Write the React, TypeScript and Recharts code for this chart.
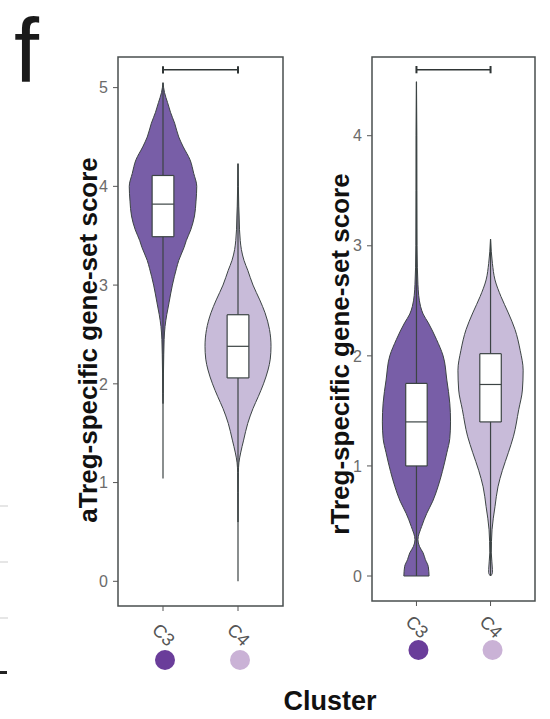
import React from 'react';
import { ComposedChart, Area, Line, XAxis, YAxis, ReferenceArea } from 'recharts';

const clusters = ['C3', 'C4'];
const clusterPos = [1, 2];
const violinFill = ['#785ea7', '#c8bbd9'];
const dotFill = ['#6a3d9a', '#cab2d6'];

// aTreg-specific score, violin outlines (score level -> half width)
const aTregTicks = [0, 1, 2, 3, 4, 5];
const aTregC3Level = [5.05, 4.95, 4.85, 4.75, 4.64, 4.5, 4.4, 4.27, 4.13, 4.0, 3.85, 3.7, 3.56, 3.45, 3.38, 3.25, 3.17, 3.0, 2.82, 2.7, 2.58, 2.45, 2.3, 2.1, 1.9, 1.8];
const aTregC3Half = [0, 0.02, 0.06, 0.1, 0.155, 0.21, 0.27, 0.36, 0.41, 0.45, 0.44, 0.42, 0.37, 0.31, 0.28, 0.21, 0.18, 0.125, 0.08, 0.05, 0.027, 0.015, 0.01, 0.006, 0.004, 0];
const aTregC4Level = [4.23, 4.0, 3.8, 3.7, 3.56, 3.45, 3.36, 3.25, 3.15, 3.0, 2.85, 2.72, 2.55, 2.38, 2.25, 2.14, 2.0, 1.87, 1.75, 1.6, 1.43, 1.3, 1.2, 1.1, 0.9, 0.6];
const aTregC4Half = [0, 0.005, 0.01, 0.015, 0.02, 0.03, 0.045, 0.08, 0.13, 0.2, 0.29, 0.36, 0.42, 0.44, 0.43, 0.4, 0.34, 0.27, 0.2, 0.13, 0.075, 0.035, 0.012, 0.005, 0.003, 0];
const aTregMin = [1.04, 0];
const aTregQ1 = [3.49, 2.06];
const aTregMed = [3.82, 2.38];
const aTregQ3 = [4.11, 2.7];
const aTregMax = [5.05, 4.23];

// rTreg-specific score
const rTregTicks = [0, 1, 2, 3, 4];
const rTregC3Level = [4.49, 4.0, 3.5, 3.0, 2.8, 2.65, 2.55, 2.45, 2.38, 2.3, 2.15, 2.0, 1.78, 1.57, 1.4, 1.25, 1.12, 0.95, 0.81, 0.68, 0.57, 0.45, 0.33, 0.27, 0.21, 0.15, 0.085, 0];
const rTregC3Half = [0, 0.005, 0.006, 0.008, 0.012, 0.02, 0.03, 0.055, 0.09, 0.16, 0.27, 0.36, 0.41, 0.45, 0.46, 0.45, 0.41, 0.35, 0.29, 0.22, 0.14, 0.07, 0.02, 0.04, 0.09, 0.12, 0.16, 0.17];
const rTregC4Level = [3.06, 2.84, 2.69, 2.54, 2.39, 2.24, 2.05, 1.87, 1.69, 1.51, 1.27, 1.12, 0.96, 0.81, 0.63, 0.42, 0.21, 0.06, 0.03, 0];
const rTregC4Half = [0, 0.025, 0.06, 0.14, 0.24, 0.33, 0.4, 0.44, 0.43, 0.38, 0.31, 0.24, 0.16, 0.1, 0.06, 0.02, 0.01, 0.025, 0.025, 0];
const rTregMin = [0, 0];
const rTregQ1 = [1.0, 1.4];
const rTregMed = [1.4, 1.74];
const rTregQ3 = [1.75, 2.02];
const rTregMax = [4.49, 3.06];

const FONT = '"Liberation Sans", Arial, Helvetica, sans-serif';
const OUTLINE = '#3c4444';
const BOX_HALF = 0.145;

type PanelProps = {
  left: number;
  width: number;
  margin: { top: number; right: number; bottom: number; left: number };
  yDomain: [number, number];
  ticks: number[];
  levels: number[][];
  halves: number[][];
  min: number[];
  q1: number[];
  med: number[];
  q3: number[];
  max: number[];
  bracketY: number;
  bracketEnd: number;
  labelDy: number;
  dotDy: number;
};

function Panel(p: PanelProps) {
  const xDomain: [number, number] = [0.4, 2.6];
  const renderTick = (t: any) => {
    const i = clusterPos.indexOf(t.payload.value);
    const ax = t.x - 12;
    const ay = t.y + p.labelDy;
    return (
      <g>
        <text x={ax} y={ay} transform={`rotate(45 ${ax} ${ay})`} fontSize={18} fill="#555" fontFamily={FONT}>
          {clusters[i]}
        </text>
        <circle cx={t.x + 2} cy={t.y + p.dotDy} r={10} fill={dotFill[i]} />
      </g>
    );
  };

  const seg = (key: string, pts: { x: number; y: number }[], stroke: string, w: number) => (
    <Line
      key={key}
      data={pts}
      dataKey="x"
      stroke={stroke}
      strokeWidth={w}
      dot={false}
      activeDot={false}
      isAnimationActive={false}
    />
  );

  return (
    <div style={{ position: 'absolute', left: p.left, top: 0 }}>
      <ComposedChart layout="vertical" width={p.width} height={719} margin={p.margin}>
        <XAxis
          type="number"
          dataKey="x"
          domain={xDomain}
          allowDataOverflow
          ticks={clusterPos}
          tick={renderTick}
          tickSize={5}
          height={40}
          axisLine={false}
          tickLine={{ stroke: '#555' }}
          interval={0}
        />
        <YAxis
          type="number"
          dataKey="y"
          domain={p.yDomain}
          allowDataOverflow
          reversed
          ticks={p.ticks}
          width={30}
          tickSize={5}
          tickMargin={5}
          axisLine={false}
          tickLine={{ stroke: '#555' }}
          tick={{ fontSize: 16, fill: '#6b6b6b', fontFamily: FONT }}
          interval={0}
        />
        <ReferenceArea
          x1={xDomain[0]}
          x2={xDomain[1]}
          y1={p.yDomain[0]}
          y2={p.yDomain[1]}
          fill="none"
          stroke="#4a4f4f"
          strokeWidth={1.5}
          ifOverflow="visible"
        />
        {clusterPos.map((c, i) => (
          <Area
            key={`v${i}`}
            data={p.levels[i].map((y, k) => ({ y, lo: c - p.halves[i][k], hi: c + p.halves[i][k] }))}
            dataKey={(d: any) => [d.lo, d.hi]}
            type="monotone"
            fill={violinFill[i]}
            fillOpacity={1}
            stroke={OUTLINE}
            strokeWidth={1}
            dot={false}
            activeDot={false}
            isAnimationActive={false}
          />
        ))}
        {clusterPos.map((c, i) => {
          const k = p.levels[i].length - 1;
          return p.halves[i][k] > 0
            ? seg(`vb${i}`, [{ y: p.levels[i][k], x: c - p.halves[i][k] }, { y: p.levels[i][k], x: c + p.halves[i][k] }], OUTLINE, 1)
            : null;
        })}
        {clusterPos.map((c, i) => seg(`wu${i}`, [{ y: p.q3[i], x: c }, { y: p.max[i], x: c }], OUTLINE, 1.2))}
        {clusterPos.map((c, i) => seg(`wl${i}`, [{ y: p.min[i], x: c }, { y: p.q1[i], x: c }], OUTLINE, 1.2))}
        {clusterPos.map((c, i) => (
          <Area
            key={`b${i}`}
            data={[
              { y: p.q1[i], lo: c - BOX_HALF, hi: c + BOX_HALF },
              { y: p.q3[i], lo: c - BOX_HALF, hi: c + BOX_HALF },
            ]}
            dataKey={(d: any) => [d.lo, d.hi]}
            type="linear"
            fill="#ffffff"
            fillOpacity={1}
            stroke={OUTLINE}
            strokeWidth={1.2}
            dot={false}
            activeDot={false}
            isAnimationActive={false}
          />
        ))}
        {clusterPos.map((c, i) => seg(`bt${i}`, [{ y: p.q3[i], x: c - BOX_HALF }, { y: p.q3[i], x: c + BOX_HALF }], OUTLINE, 1.2))}
        {clusterPos.map((c, i) => seg(`bb${i}`, [{ y: p.q1[i], x: c - BOX_HALF }, { y: p.q1[i], x: c + BOX_HALF }], OUTLINE, 1.2))}
        {clusterPos.map((c, i) => seg(`m${i}`, [{ y: p.med[i], x: c - BOX_HALF }, { y: p.med[i], x: c + BOX_HALF }], OUTLINE, 1.2))}
        {seg('bracket', [{ y: p.bracketY, x: clusterPos[0] }, { y: p.bracketY, x: clusterPos[1] }], '#2f3535', 1.5)}
        {clusterPos.map((c, i) =>
          seg(`be${i}`, [{ y: p.bracketY - p.bracketEnd, x: c }, { y: p.bracketY + p.bracketEnd, x: c }], '#2f3535', 2)
        )}
      </ComposedChart>
    </div>
  );
}

export default function App() {
  return (
    <div style={{ position: 'absolute', left: 0, top: 0, width: 550, height: 719, background: '#fff', fontFamily: FONT }}>
      {[505, 561, 617].map((y) => (
        <div key={y} style={{ position: 'absolute', left: 0, top: y, width: 8, height: 2, background: '#e6e6e6' }} />
      ))}
      <div style={{ position: 'absolute', left: 0, top: 671, width: 7, height: 3, background: '#222' }} />
      <Panel
        left={0}
        width={300}
        margin={{ top: 57, right: 17, bottom: 73, left: 88 }}
        yDomain={[-0.25, 5.31]}
        ticks={aTregTicks}
        levels={[aTregC3Level, aTregC4Level]}
        halves={[aTregC3Half, aTregC4Half]}
        min={aTregMin}
        q1={aTregQ1}
        med={aTregMed}
        q3={aTregQ3}
        max={aTregMax}
        bracketY={5.18}
        bracketEnd={0.037}
        labelDy={18}
        dotDy={47}
      />
      <Panel
        left={300}
        width={250}
        margin={{ top: 57, right: 15, bottom: 78, left: 42 }}
        yDomain={[-0.227, 4.715]}
        ticks={rTregTicks}
        levels={[rTregC3Level, rTregC4Level]}
        halves={[rTregC3Half, rTregC4Half]}
        min={rTregMin}
        q1={rTregQ1}
        med={rTregMed}
        q3={rTregQ3}
        max={rTregMax}
        bracketY={4.6}
        bracketEnd={0.033}
        labelDy={15}
        dotDy={42}
      />
      <svg width={550} height={719} style={{ position: 'absolute', left: 0, top: 0, pointerEvents: 'none' }}>
        <text x={14} y={82} fontSize={90} fill="#1a1a1a" fontFamily={FONT}>f</text>
        <text x={97} y={340} transform="rotate(-90 97 340)" textAnchor="middle" fontSize={26} fontWeight="bold" fill="#111" fontFamily={FONT}>
          aTreg-specific gene-set score
        </text>
        <text x={349} y={354} transform="rotate(-90 349 354)" textAnchor="middle" fontSize={26} fontWeight="bold" fill="#111" fontFamily={FONT}>
          rTreg-specific gene-set score
        </text>
        <text x={330} y={710} textAnchor="middle" fontSize={27} fontWeight="bold" fill="#111" fontFamily={FONT}>Cluster</text>
      </svg>
    </div>
  );
}
